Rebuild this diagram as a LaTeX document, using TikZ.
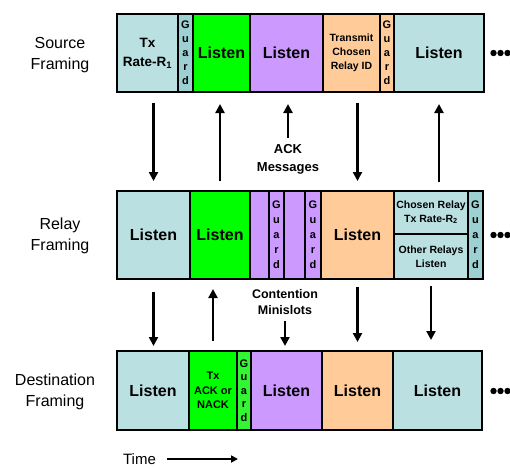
\documentclass[tikz,border=0pt]{standalone}
\usepackage{fontspec}
\setmainfont{Liberation Sans}
\usetikzlibrary{arrows.meta}
\definecolor{lblue}{HTML}{BBE0E2}
\definecolor{tguard}{HTML}{9DD0D3}
\definecolor{lgreen}{HTML}{00FF00}
\definecolor{ggreen}{HTML}{33F533}
\definecolor{lpurple}{HTML}{CC99FF}
\definecolor{lorange}{HTML}{FFCC99}
\begin{document}
\begin{tikzpicture}[x=1pt,y=-1pt,
  slot/.style={draw,line width=2.6pt,anchor=north west,inner sep=0pt,outer sep=0pt,align=center},
  big/.style={font=\fontsize{16}{18}\selectfont\bfseries},
  small/.style={font=\fontsize{10.5}{13.5}\selectfont\bfseries},
  guard/.style={font=\fontsize{11}{14}\selectfont\bfseries},
  rowlbl/.style={align=center,font=\fontsize{16}{21}\selectfont},
  sig/.style={line width=2.4pt,-{Triangle[length=9pt,width=9pt]}}]
\useasboundingbox (0,0) rectangle (510,468);
% source row
\node[slot,big,fill=lblue,minimum width=61,minimum height=78,font=\fontsize{13.5}{19}\selectfont\bfseries] (s1) at (117,14) {Tx\\Rate-R\textsubscript{1}};
\node[slot,guard,fill=tguard,minimum width=15,minimum height=78] (s2) at (178,14) {G\\u\\a\\r\\d};
\node[slot,big,fill=lgreen,minimum width=57,minimum height=78] (s3) at (193,14) {Listen};
\node[slot,big,fill=lpurple,minimum width=73,minimum height=78] (s4) at (250,14) {Listen};
\node[slot,small,fill=lorange,minimum width=57,minimum height=78,font=\fontsize{10.5}{14}\selectfont\bfseries] (s5) at (323,14) {Transmit\\Chosen\\Relay ID};
\node[slot,guard,fill=lorange,minimum width=14,minimum height=78] (s6) at (380,14) {G\\u\\a\\r\\d};
\node[slot,big,fill=lblue,minimum width=90,minimum height=78] (s7) at (394,14) {Listen};
% relay row
\node[slot,big,fill=lblue,minimum width=73,minimum height=88] (r1) at (117,191) {Listen};
\node[slot,big,fill=lgreen,minimum width=60,minimum height=88] (r2) at (190,191) {Listen};
\node[slot,fill=lpurple,minimum width=19,minimum height=88] (r3) at (250,191) {};
\node[slot,guard,fill=lpurple,minimum width=15,minimum height=88,font=\fontsize{11}{15}\selectfont\bfseries] (r4) at (269,191) {G\\u\\a\\r\\d};
\node[slot,fill=lpurple,minimum width=21,minimum height=88] (r5) at (284,191) {};
\node[slot,guard,fill=lpurple,minimum width=16,minimum height=88,font=\fontsize{11}{15}\selectfont\bfseries] (r6) at (305,191) {G\\u\\a\\r\\d};
\node[slot,big,fill=lorange,minimum width=73,minimum height=88] (r7) at (321,191) {Listen};
\node[slot,small,fill=lblue,minimum width=74,minimum height=43] (r8) at (394,191) {Chosen Relay\\Tx Rate-R\textsubscript{2}};
\node[slot,small,fill=lblue,minimum width=74,minimum height=45] (r9) at (394,234) {Other Relays\\Listen};
\node[slot,guard,fill=tguard,minimum width=15,minimum height=88,font=\fontsize{11}{15}\selectfont\bfseries] (r10) at (468,191) {G\\u\\a\\r\\d};
% destination row
\node[slot,big,fill=lblue,minimum width=72,minimum height=79] (d1) at (117,351) {Listen};
\node[slot,small,fill=lgreen,minimum width=48,minimum height=79,font=\fontsize{11}{14.5}\selectfont\bfseries] (d2) at (189,351) {Tx\\ACK or\\NACK};
\node[slot,guard,fill=ggreen,minimum width=14,minimum height=79,font=\fontsize{11}{13.5}\selectfont\bfseries] (d3) at (237,351) {G\\u\\a\\r\\d};
\node[slot,big,fill=lpurple,minimum width=71,minimum height=79] (d4) at (251,351) {Listen};
\node[slot,big,fill=lorange,minimum width=71,minimum height=79] (d5) at (322,351) {Listen};
\node[slot,big,fill=lblue,minimum width=89,minimum height=79] (d6) at (393,351) {Listen};
% row names
\node[rowlbl] (srcname) at (60,55.5) {Source\\Framing};
\node[rowlbl] (relname) at (60,235.5) {Relay\\Framing};
\node[rowlbl] (dstname) at (55,391.5) {Destination\\Framing};
% continuation dots
\foreach \y in {53,235,391}
  \foreach \x in {493.5,500.5,507.5}
    \fill (\x,\y) circle (3.2pt);
% source <-> relay
\node[align=center,font=\fontsize{13}{18}\selectfont\bfseries] (ack) at (288,159) {ACK\\Messages};
\draw[sig,shorten <=11pt,shorten >=10pt] (s1.south -| r1.north) -- (r1.north);
\draw[sig,shorten <=10pt,shorten >=12pt] (r2.north) -- (r2.north |- s3.south);
\draw[sig,shorten <=3pt,shorten >=12pt] (ack.north) -- (ack.north |- s4.south);
\draw[sig,shorten <=11pt,shorten >=10pt] (s5.south -| r7.north) -- (r7.north);
\draw[sig,shorten <=9pt,shorten >=12pt] (r8.north -| s7.south) -- (s7.south);
% relay <-> destination
\node[align=center,font=\fontsize{12.5}{16}\selectfont\bfseries] (cont) at (285,302) {Contention\\Minislots};
\draw[sig,shorten <=13pt,shorten >=5pt] (r1.south) -- (r1.south |- d1.north);
\draw[sig,shorten <=10pt,shorten >=10pt] (d2.north) -- (d2.north |- r2.south);
\draw[sig,shorten <=3pt,shorten >=5pt] (cont.south) -- (cont.south |- d4.north);
\draw[sig,shorten <=8pt,shorten >=9pt] (r7.south) -- (r7.south |- d5.north);
\draw[sig,shorten <=7pt,shorten >=11pt] (r9.south) -- (r9.south |- d6.north);
% time axis
\node[font=\fontsize{15}{18}\selectfont] (time) at (139.5,459) {Time};
\coordinate (tend) at (238,459);
\draw[line width=1.8pt,-{Triangle[length=7pt,width=7pt]},shorten <=8pt] (time.east) -- (tend);
\end{tikzpicture}
\end{document}
